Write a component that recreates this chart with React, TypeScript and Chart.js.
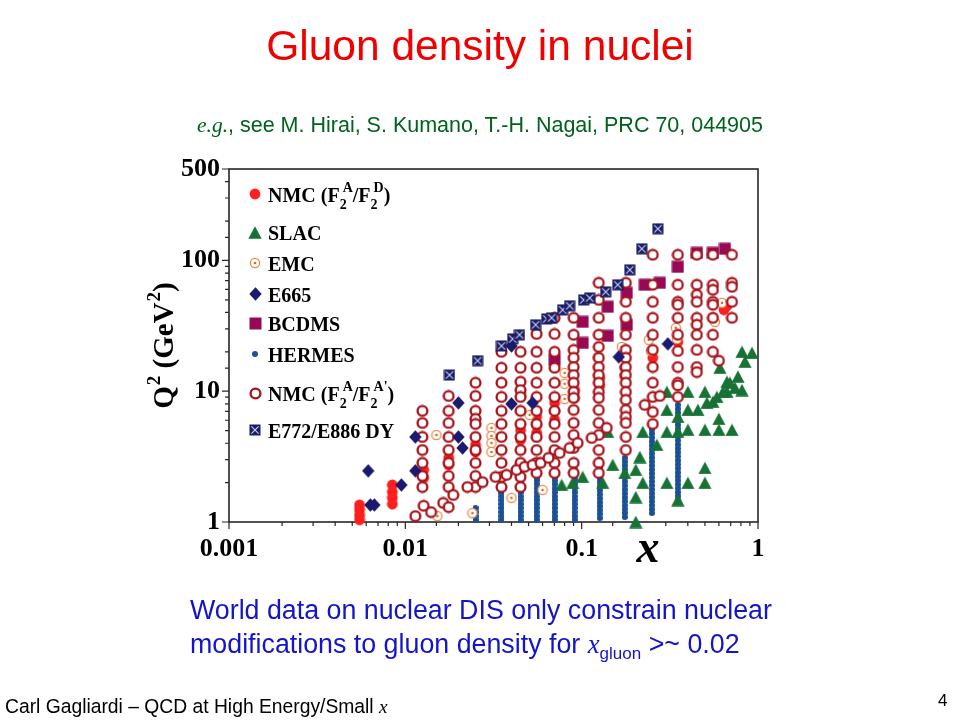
import React, { useEffect, useRef } from 'react';
import { Chart, registerables } from 'chart.js';

Chart.register(...registerables);

const SERIF = '"Liberation Serif", "Times New Roman", Times, serif';
const SANS = '"Liberation Sans", Arial, Helvetica, sans-serif';

// ---------------- text ----------------
const slideTitle = 'Gluon density in nuclei';
const referenceLead = 'e.g.';
const referenceNote = ', see M. Hirai, S. Kumano, T.-H. Nagai, PRC 70, 044905';
const conclusionLine1 = 'World data on nuclear DIS only constrain nuclear';
const conclusionLine2 = 'modifications to gluon density for ';
const conclusionVar = 'x';
const conclusionSub = 'gluon';
const conclusionTail = ' >~ 0.02';
const footerText = 'Carl Gagliardi – QCD at High Energy/Small ';
const footerVar = 'x';
const pageNumber = '4';

const seriesLabels = [
  'NMC (F_{2}^{A}/F_{2}^{D})',
  'SLAC',
  'EMC',
  'E665',
  'BCDMS',
  'HERMES',
  "NMC (F_{2}^{A}/F_{2}^{A'})",
  'E772/E886 DY',
];
const xAxisTitle = 'x';
const yAxisTitle = 'Q^{2} (GeV^{2})';
const xTickValues = [0.001, 0.01, 0.1, 1];
const xTickLabels = ['0.001', '0.01', '0.1', '1'];
const yTickValues = [1, 10, 100, 500];
const yTickLabels = ['1', '10', '100', '500'];
const xRange = [0.001, 1];
const yRange = [1, 500];

// ---------------- data: [x, Q^2] ----------------
const nmcDeuteronData = [
  [0.0055, 1.35], [0.0055, 1.24], [0.0055, 1.13], [0.0055, 1.04],
  [0.00844, 1.92], [0.00844, 1.7], [0.00844, 1.53], [0.00844, 1.37],
  [0.0127, 2.5], [0.0127, 2.17],
  [0.0176, 3.09], [0.0176, 2.73],
  [0.025, 3.88], [0.025, 3.43],
  [0.045, 5.06], [0.045, 4.24],
  [0.0555, 6.36], [0.0555, 5.52], [0.0555, 4.8],
  [0.0702, 8.14], [0.0702, 7.07], [0.0702, 6.03],
  [0.0912, 10.2], [0.0912, 8.89],
  [0.1266, 12.6], [0.1266, 11.0],
  [0.1755, 15.1], [0.1755, 13.1],
  [0.253, 18.0], [0.351, 23.8], [0.555, 36.4], [0.641, 41.9], [0.667, 45.0],
];

const slacData = [
  [0.077, 1.92], [0.0889, 1.99], [0.1013, 2.21], [0.1316, 1.99], [0.1405, 4.88],
  [0.15, 2.73], [0.1755, 2.37], [0.2027, 2.5], [0.2136, 3.14], [0.2222, 1.99],
  [0.2027, 1.55], [0.2027, 1.0], [0.2668, 3.88], [0.2222, 4.88], [0.3041, 4.88],
  [0.3041, 1.99], [0.3041, 7.19], [0.3041, 9.88], [0.3511, 6.36], [0.3511, 4.88],
  [0.3511, 1.47], [0.4003, 5.06], [0.4003, 1.99], [0.4003, 9.88], [0.4003, 7.19],
  [0.4561, 7.19], [0.5, 9.88], [0.5, 5.06], [0.5, 2.59], [0.5, 1.99],
  [0.5131, 8.14], [0.5551, 8.28], [0.5848, 9.04], [0.6003, 6.14], [0.6003, 5.06],
  [0.7117, 5.06], [0.6083, 15.1], [0.6666, 11.8], [0.6934, 11.6], [0.7401, 10.6],
  [0.7697, 12.9], [0.8111, 10.2], [0.8111, 20.0], [0.9245, 19.6], [0.8437, 16.8],
  [0.6666, 9.88], [0.6326, 9.88],
];

const emcData = [
  [0.015, 4.63], [0.0152, 1.11], [0.024, 1.17], [0.0308, 5.24], [0.0308, 4.55],
  [0.0308, 4.02], [0.0308, 3.43], [0.04, 1.53], [0.0456, 9.37], [0.0507, 6.59],
  [0.06, 1.76], [0.08, 13.8], [0.08, 11.4], [0.08, 8.73], [0.1233, 18.3],
  [0.1233, 15.1], [0.1233, 12.9], [0.1688, 21.8], [0.2403, 24.7], [0.2466, 20.3],
  [0.342, 30.5], [0.3466, 25.1], [0.4502, 32.2], [0.5696, 33.9], [0.6245, 47.4],
];

const e665Data = [
  [0.00616, 2.46], [0.00633, 1.35], [0.00667, 1.35], [0.00949, 1.92],
  [0.0114, 4.47], [0.0114, 2.46], [0.02, 8.14], [0.02, 4.47], [0.0211, 3.68],
  [0.04, 22.2], [0.04, 8.0], [0.0527, 8.14], [0.1623, 18.3], [0.3081, 23.0],
];

const bcdmsData = [
  [0.0702, 17.4], [0.1013, 33.9], [0.1013, 23.4], [0.1405, 44.2], [0.1405, 26.5],
  [0.1802, 56.5], [0.1802, 32.2], [0.228, 65.1], [0.2775, 67.4], [0.3511, 89.3],
  [0.4502, 114.3], [0.5551, 114.3], [0.6494, 122.7],
];

const hermesColumnX = [0.025, 0.0351, 0.045, 0.0555, 0.0703, 0.0912, 0.1266, 0.1755, 0.25, 0.351];
const hermesColumnQ2 = [
  [1.04, 1.11, 1.19, 1.28],
  [1.04, 1.11, 1.19, 1.28, 1.37, 1.47, 1.57, 1.67],
  [1.04, 1.11, 1.19, 1.28, 1.37, 1.47, 1.57, 1.69, 1.81, 1.95, 2.1],
  [1.04, 1.11, 1.19, 1.28, 1.37, 1.47, 1.57, 1.69, 1.81, 1.95, 2.08, 2.17],
  [1.04, 1.11, 1.19, 1.28, 1.37, 1.47, 1.57, 1.69, 1.81, 1.95, 2.08, 2.21],
  [1.04, 1.11, 1.19, 1.28, 1.37, 1.47, 1.57, 1.69, 1.81, 1.95, 2.1, 2.25, 2.41, 2.5],
  [1.07, 1.15, 1.23, 1.32, 1.41, 1.51, 1.62, 1.74, 1.86, 2.0, 2.14, 2.3, 2.46, 2.64, 2.83, 2.98],
  [1.09, 1.17, 1.25, 1.34, 1.44, 1.54, 1.65, 1.77, 1.9, 2.04, 2.19, 2.35, 2.52, 2.7, 2.89, 3.09],
  [1.17, 1.25, 1.34, 1.44, 1.54, 1.65, 1.77, 1.9, 2.04, 2.19, 2.35, 2.52, 2.7, 2.89, 3.1, 3.33,
    3.57, 3.83, 4.11, 4.41, 4.73, 5.07, 5.4],
  [1.47, 1.58, 1.69, 1.81, 1.94, 2.08, 2.23, 2.39, 2.57, 2.75, 2.95, 3.17, 3.4, 3.64, 3.9, 4.19,
    4.49, 4.81, 5.16, 5.53, 5.94, 6.37, 6.83, 7.33, 7.86],
];

const nmcPrimeColumnX = [0.0125, 0.0176, 0.025, 0.0351, 0.045, 0.0555, 0.0702, 0.0901, 0.125, 0.178, 0.253, 0.351, 0.45, 0.555, 0.712];
const nmcPrimeColumnQ2 = [
  [7.07, 5.72, 4.47, 3.55, 2.83, 2.25, 1.85],
  [9.2, 7.07, 5.72, 4.47, 3.55, 2.83, 2.25, 1.85],
  [11.6, 9.2, 7.07, 6.14, 5.62, 4.47, 3.55, 2.83, 2.25, 1.85],
  [20.0, 15.1, 11.6, 9.04, 7.07, 5.62, 4.47, 3.55, 2.83, 2.21, 1.85],
  [20.0, 15.1, 11.8, 10.2, 9.04, 7.07, 5.62, 4.47, 3.55, 2.83, 2.21, 1.85],
  [27.4, 20.0, 15.1, 11.6, 9.04, 7.07, 5.62, 4.47, 3.55, 2.83, 2.37],
  [36.4, 27.4, 20.0, 15.1, 11.6, 9.04, 7.07, 5.62, 4.47, 3.55, 2.83, 2.37],
  [36.4, 27.0, 20.7, 18.0, 15.3, 13.3, 11.6, 9.88, 8.89, 7.19, 5.72, 4.63, 3.68, 2.83, 2.37],
  [67.4, 49.9, 36.4, 27.0, 21.8, 18.0, 15.3, 13.3, 11.6, 9.88, 8.89, 7.19, 5.72, 4.63, 3.55, 2.83, 2.37],
  [67.4, 48.2, 36.4, 27.0, 20.7, 18.0, 15.3, 13.3, 11.6, 9.88, 8.58, 7.19, 6.36, 5.72, 4.47, 3.55],
  [110.4, 65.1, 48.2, 36.4, 27.0, 20.7, 15.3, 11.6, 9.04, 6.94, 5.62],
  [110.4, 65.1, 48.2, 45.8, 36.4, 27.0, 20.3, 15.3, 11.6, 11.1, 9.04],
  [110.4, 65.1, 54.6, 48.2, 36.4, 32.2, 27.0, 20.7, 15.3, 14.0],
  [110.4, 65.1, 59.6, 48.2, 45.8, 36.4, 27.0, 20.0],
  [110.4, 67.4, 62.8, 48.2, 36.4],
];
const nmcPrimeExtra = [
  [0.0127, 1.33], [0.0114, 1.11], [0.014, 1.19],
  [0.0187, 1.61], [0.0164, 1.4], [0.0176, 1.3],
  [0.0225, 1.85], [0.0274, 2.02],
  [0.0325, 2.21], [0.0375, 2.29],
  [0.0427, 2.5], [0.0475, 2.64],
  [0.0527, 2.73], [0.0585, 2.83],
  [0.0649, 3.09], [0.075, 3.37],
  [0.0855, 3.68], [0.0949, 4.02],
  [0.114, 4.39], [0.1387, 5.24],
  [0.228, 7.86], [0.2775, 9.2],
  [0.6, 17.1],
];

const e772Data = [
  [0.0178, 13.3], [0.0257, 17.1], [0.0351, 22.2], [0.0406, 25.1], [0.0444, 27.0],
  [0.0548, 32.2], [0.0633, 35.7], [0.0675, 36.4], [0.078, 41.9], [0.0855, 45.0],
  [0.1026, 49.9], [0.111, 51.7], [0.1369, 57.5], [0.1601, 65.1], [0.1874, 84.7],
  [0.2193, 122.7], [0.2703, 174.5],
];

// ---------------- markers ----------------
function makeMarker(w: number, h: number, draw: (c: CanvasRenderingContext2D) => void) {
  const c = document.createElement('canvas');
  c.width = w;
  c.height = h;
  const ctx = c.getContext('2d') as CanvasRenderingContext2D;
  draw(ctx);
  return c;
}

const markers = [
  makeMarker(12, 12, (c) => { c.fillStyle = '#ff1f1f'; c.beginPath(); c.arc(6, 6, 5.4, 0, Math.PI * 2); c.fill(); }),
  makeMarker(14, 13, (c) => { c.fillStyle = '#167335'; c.beginPath(); c.moveTo(7, 0.3); c.lineTo(13.7, 12.7); c.lineTo(0.3, 12.7); c.closePath(); c.fill(); }),
  makeMarker(12, 12, (c) => {
    c.fillStyle = '#ffffff'; c.strokeStyle = '#e88c4c'; c.lineWidth = 1.3;
    c.beginPath(); c.arc(6, 6, 4.6, 0, Math.PI * 2); c.fill(); c.stroke();
    c.fillStyle = '#cf6a28'; c.beginPath(); c.arc(6, 6, 1.3, 0, Math.PI * 2); c.fill();
  }),
  makeMarker(13, 14, (c) => { c.fillStyle = '#1a1a6e'; c.beginPath(); c.moveTo(6.5, 0.3); c.lineTo(12.7, 7); c.lineTo(6.5, 13.7); c.lineTo(0.3, 7); c.closePath(); c.fill(); }),
  makeMarker(13, 13, (c) => { c.fillStyle = '#960a55'; c.fillRect(0.5, 0.5, 12, 12); }),
  makeMarker(6, 6, (c) => { c.fillStyle = '#1a5096'; c.beginPath(); c.arc(3, 3, 3, 0, Math.PI * 2); c.fill(); }),
  makeMarker(13, 13, (c) => {
    c.fillStyle = '#ffffff'; c.strokeStyle = '#a8121a'; c.lineWidth = 2.3;
    c.beginPath(); c.arc(6.5, 6.5, 4.9, 0, Math.PI * 2); c.fill(); c.stroke();
  }),
  makeMarker(12, 12, (c) => {
    c.fillStyle = '#1c1c62'; c.fillRect(0.5, 0.5, 11, 11);
    c.strokeStyle = '#c8d0ff'; c.lineWidth = 1.1;
    c.beginPath(); c.moveTo(2.4, 2.4); c.lineTo(9.6, 9.6); c.moveTo(9.6, 2.4); c.lineTo(2.4, 9.6); c.stroke();
  }),
];

// drawing order (lower = drawn on top)
const seriesOrder = [5, 6, 4, 1, 3, 7, 2, 0];

const pairsToPoints = (pairs: number[][]) => pairs.map(([x, y]) => ({ x, y }));
const columnsToPoints = (xs: number[], qs: number[][]) => xs.flatMap((x, i) => qs[i].map((y) => ({ x, y })));

const seriesPoints = [
  pairsToPoints(nmcDeuteronData),
  pairsToPoints(slacData),
  pairsToPoints(emcData),
  pairsToPoints(e665Data),
  pairsToPoints(bcdmsData),
  columnsToPoints(hermesColumnX, hermesColumnQ2),
  columnsToPoints(nmcPrimeColumnX, nmcPrimeColumnQ2).concat(pairsToPoints(nmcPrimeExtra)),
  pairsToPoints(e772Data),
];

// ---------------- rich text helper ----------------
type Piece = { text: string; kind: 'n' | 'sub' | 'sup' };
function parseRich(s: string): Piece[] {
  const out: Piece[] = [];
  let buf = '';
  for (let i = 0; i < s.length; i++) {
    const ch = s[i];
    if ((ch === '_' || ch === '^') && s[i + 1] === '{') {
      if (buf) { out.push({ text: buf, kind: 'n' }); buf = ''; }
      const end = s.indexOf('}', i + 2);
      out.push({ text: s.slice(i + 2, end), kind: ch === '_' ? 'sub' : 'sup' });
      i = end;
    } else {
      buf += ch;
    }
  }
  if (buf) out.push({ text: buf, kind: 'n' });
  return out;
}

function drawRich(ctx: CanvasRenderingContext2D, s: string, x: number, y: number,
  o: { size: number; small: number; drop: number; rise: number }, draw = true) {
  let cx = x;
  let lastSub: { x: number; w: number } | null = null;
  for (const p of parseRich(s)) {
    if (p.kind === 'n') {
      ctx.font = `bold ${o.size}px ${SERIF}`;
      const w = ctx.measureText(p.text).width;
      if (draw) ctx.fillText(p.text, cx, y);
      cx += w;
      lastSub = null;
    } else if (p.kind === 'sub') {
      ctx.font = `bold ${o.small}px ${SERIF}`;
      const w = ctx.measureText(p.text).width;
      if (draw) ctx.fillText(p.text, cx, y + o.drop);
      lastSub = { x: cx, w };
      cx += w;
    } else {
      ctx.font = `bold ${o.small}px ${SERIF}`;
      const w = ctx.measureText(p.text).width;
      const sx = lastSub ? lastSub.x + 3 : cx + 1;
      if (draw) ctx.fillText(p.text, sx, y - o.rise);
      cx = Math.max(cx, sx + w);
      lastSub = null;
    }
  }
  return cx - x;
}

const legendRowOffsets = [25, 63, 94, 125, 154, 185, 224, 261];

const isMajor = (v: number, extra: number[]) => {
  const lg = Math.log10(v);
  return Math.abs(lg - Math.round(lg)) < 1e-6 || extra.some((e) => Math.abs(e - v) < 1e-9);
};

const slidePlugin = {
  id: 'slideDecor',
  beforeDatasetsDraw(chart: any) {
    const { ctx, chartArea } = chart;
    const { left, top, right, bottom } = chartArea;
    ctx.save();
    ctx.strokeStyle = '#262626';
    ctx.lineWidth = 1.6;
    ctx.strokeRect(left, top, right - left, bottom - top);
    ctx.lineWidth = 1.2;
    ctx.beginPath();
    chart.scales.x.ticks.forEach((t: any) => {
      const px = chart.scales.x.getPixelForValue(t.value);
      const len = isMajor(t.value, []) ? 7 : 4;
      ctx.moveTo(px, bottom);
      ctx.lineTo(px, bottom + len);
    });
    chart.scales.y.ticks.forEach((t: any) => {
      const py = chart.scales.y.getPixelForValue(t.value);
      const len = isMajor(t.value, yTickValues) ? 7 : 4;
      ctx.moveTo(left, py);
      ctx.lineTo(left - len, py);
    });
    ctx.stroke();
    ctx.restore();
  },
  afterDraw(chart: any) {
    const { ctx, chartArea } = chart;
    const { left, top, bottom } = chartArea;
    ctx.save();
    ctx.textAlign = 'left';
    ctx.textBaseline = 'alphabetic';
    ctx.fillStyle = '#000';
    chart.data.datasets.forEach((ds: any, i: number) => {
      const y = top + legendRowOffsets[i];
      const img = markers[i];
      ctx.drawImage(img, Math.round(left + 26 - img.width / 2), Math.round(y - img.height / 2));
      drawRich(ctx, ds.label, left + 39, y + 7.5, { size: 20, small: 14, drop: 7, rise: 10 });
    });
    // x axis title
    ctx.font = `italic bold 46px ${SERIF}`;
    ctx.textAlign = 'center';
    ctx.fillText(xAxisTitle, left + 419, bottom + 40);
    // y axis title
    ctx.textAlign = 'left';
    const opts = { size: 29, small: 19, drop: 0, rise: 13 };
    const w = drawRich(ctx, yAxisTitle, 0, 0, opts, false);
    ctx.translate(left - 56, (top + bottom) / 2);
    ctx.rotate(-Math.PI / 2);
    drawRich(ctx, yAxisTitle, -w / 2, 0, opts, true);
    ctx.restore();
  },
};

const labelFor = (v: number, values: number[], labels: string[]) => {
  const idx = values.findIndex((t) => Math.abs(Math.log10(t) - Math.log10(v)) < 1e-6);
  return idx >= 0 ? labels[idx] : '';
};

function textBox(baseline: number, size: number, extra: any = {}) {
  return {
    position: 'absolute' as const,
    top: baseline - 0.8465 * size,
    fontSize: size,
    lineHeight: `${size}px`,
    fontFamily: SANS,
    whiteSpace: 'nowrap' as const,
    margin: 0,
    ...extra,
  };
}

export default function App() {
  const ref = useRef<HTMLCanvasElement>(null);

  useEffect(() => {
    if (!ref.current) return;
    const datasets = seriesLabels.map((label, i) => ({
      label,
      data: seriesPoints[i],
      pointStyle: markers[i],
      pointRadius: 5,
      pointHoverRadius: 5,
      showLine: false,
      clip: false,
      order: seriesOrder[i],
    }));
    const tickFont = { family: SERIF, weight: 'bold', size: 26 };
    const chart = new Chart(ref.current, {
      type: 'scatter',
      data: { datasets } as any,
      options: {
        animation: false,
        responsive: false,
        maintainAspectRatio: false,
        events: [],
        layout: { padding: { top: 169, right: 202, left: 0, bottom: 0 } },
        plugins: { legend: { display: false }, tooltip: { enabled: false }, title: { display: false } },
        scales: {
          x: {
            type: 'logarithmic',
            position: 'bottom',
            min: xRange[0],
            max: xRange[1],
            afterFit: (s: any) => { s.height = 198; },
            grid: { display: true, drawOnChartArea: false, drawTicks: true, tickLength: 7, color: 'rgba(0,0,0,0)', tickColor: 'rgba(0,0,0,0)' },
            border: { display: false },
            ticks: {
              autoSkip: false, maxRotation: 0, minRotation: 0, padding: 5, color: '#000', font: tickFont as any,
              callback: (v: any) => labelFor(Number(v), xTickValues, xTickLabels),
            },
          },
          y: {
            type: 'logarithmic',
            position: 'left',
            min: yRange[0],
            max: yRange[1],
            afterFit: (s: any) => { s.width = 229; },
            grid: { display: true, drawOnChartArea: false, drawTicks: true, tickLength: 7, color: 'rgba(0,0,0,0)', tickColor: 'rgba(0,0,0,0)' },
            border: { display: false },
            ticks: {
              autoSkip: false, padding: 2, color: '#000', font: tickFont as any,
              callback: (v: any) => labelFor(Number(v), yTickValues, yTickLabels),
            },
          },
        },
      } as any,
      plugins: [slidePlugin as any],
    });
    return () => chart.destroy();
  }, []);

  return (
    <div style={{ position: 'fixed', left: 0, top: 0, width: 960, height: 720, background: '#fff', overflow: 'hidden' }}>
      <canvas ref={ref} width={960} height={720} style={{ position: 'absolute', left: 0, top: 0, width: 960, height: 720 }} />
      <div style={textBox(61, 42.5, { left: 0, width: 960, textAlign: 'center', color: '#f00000' })}>{slideTitle}</div>
      <div style={textBox(133, 21.5, { left: 0, width: 960, textAlign: 'center', color: '#00621e' })}>
        <span style={{ fontFamily: SERIF, fontStyle: 'italic' }}>{referenceLead}</span>{referenceNote}
      </div>
      <div style={textBox(620, 26.8, { left: 190, color: '#1414c8' })}>{conclusionLine1}</div>
      <div style={textBox(654, 26.8, { left: 190, color: '#1414c8' })}>
        {conclusionLine2}
        <span style={{ fontFamily: SERIF, fontStyle: 'italic' }}>{conclusionVar}</span>
        <span style={{ fontSize: 17, position: 'relative', top: 6 }}>{conclusionSub}</span>
        {conclusionTail}
      </div>
      <div style={textBox(713, 19.3, { left: 5, color: '#000' })}>
        {footerText}
        <span style={{ fontFamily: SERIF, fontStyle: 'italic' }}>{footerVar}</span>
      </div>
      <div style={textBox(706, 17, { left: 938, color: '#000' })}>{pageNumber}</div>
    </div>
  );
}
